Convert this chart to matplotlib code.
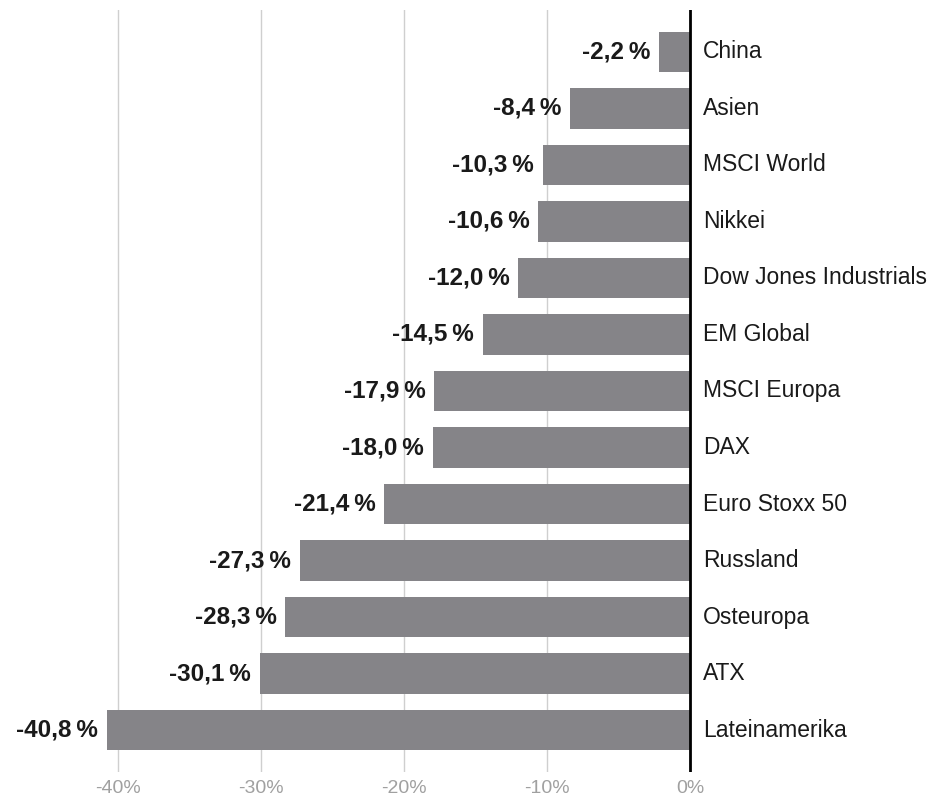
import matplotlib.pyplot as plt
import numpy as np

plt.rcParams['font.family'] = ['Liberation Sans', 'DejaVu Sans']

markets = ['China', 'Asien', 'MSCI World', 'Nikkei', 'Dow Jones Industrials', 'EM Global',
           'MSCI Europa', 'DAX', 'Euro Stoxx 50', 'Russland', 'Osteuropa', 'ATX', 'Lateinamerika']
change = [-2.2, -8.4, -10.3, -10.6, -12.0, -14.5, -17.9, -18.0, -21.4, -27.3, -28.3, -30.1, -40.8]
ticks = [-40, -30, -20, -10, 0]
tick_labels = ['-40%', '-30%', '-20%', '-10%', '0%']

W, H = 934, 798
fig = plt.figure(figsize=(W / 100, H / 100), dpi=100)
# axes spans the full width, 0 sits at x=690 px, 14.3 px per percent
x0, scale = 690, 14.3
ax = fig.add_axes([0, 26 / H, 1, 762 / H])
ax.set_xlim(-x0 / scale, (W - x0) / scale)

y = np.arange(len(markets))
ax.barh(y, change, height=0.71, color='#858488', zorder=2)
ax.set_ylim(len(markets) - 1 + 0.743, -0.743)

for yi, v, name in zip(y, change, markets):
    lbl = f'{v:.1f}'.replace('.', ',') + '\u2009%'
    ax.text(v - 0.6, yi, lbl, ha='right', va='center', fontsize=17.5, fontweight='bold',
            color='#1a1a1a')
    ax.text(0.9, yi, name, ha='left', va='center', fontsize=16.5, color='#1a1a1a')

for t in ticks[:-1]:
    ax.axvline(t, color='#cfcfcf', lw=1, zorder=1)
ax.axvline(0, color='black', lw=2, zorder=3)

ax.set_xticks(ticks)
ax.set_xticklabels(tick_labels)
ax.tick_params(axis='x', length=0, pad=6, labelsize=14, labelcolor='#a0a0a0')
ax.set_yticks([])
for s in ax.spines.values():
    s.set_visible(False)

fig.savefig('out.png', dpi=100)
